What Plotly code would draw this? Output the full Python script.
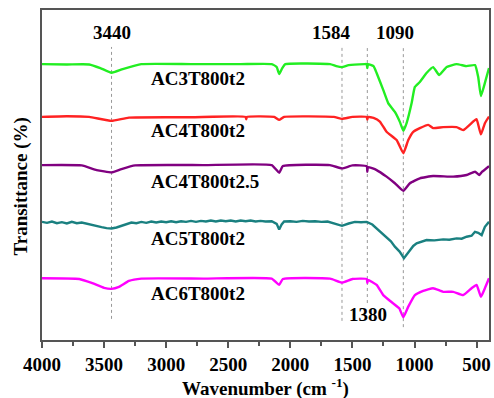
import plotly.graph_objects as go

# FTIR spectra of activated carbons, stacked with vertical offsets (arbitrary %T units)
wn_ac3 = [4000, 3800, 3620, 3530, 3440, 3350, 3200, 2800, 2400, 2150, 2110, 2090, 2065, 2040,
          1680, 1630, 1584, 1530, 1400, 1385, 1380, 1375, 1330, 1305, 1252, 1212, 1158, 1118,
          1090, 1063, 1023, 997, 957, 903, 850, 801, 741, 661, 580, 513, 487, 465, 433, 400]
t_ac3 = [83.6, 83.5, 83.5, 82.4, 81.0, 82.1, 83.6, 83.6, 83.6, 83.6, 82.7, 80.6, 82.4, 83.6,
         83.6, 83.0, 82.7, 83.3, 83.6, 83.6, 82.4, 83.6, 83.0, 80.9, 75.8, 71.8, 69.1, 66.1,
         63.4, 65.8, 71.8, 76.7, 78.2, 80.9, 82.7, 80.3, 82.7, 83.6, 83.0, 83.3, 79.7, 73.9, 77.9, 82.4]

wn_ac4 = [4000, 3800, 3620, 3440, 3300, 2800, 2360, 2355, 2350, 2130, 2090, 2050, 1650, 1584,
          1500, 1385, 1380, 1375, 1330, 1279, 1225, 1144, 1090, 1050, 1010, 957, 890, 850, 769,
          661, 608, 527, 500, 465, 433, 400]
t_ac4 = [67.6, 67.8, 67.6, 66.4, 67.4, 67.5, 67.6, 66.9, 67.6, 67.6, 66.7, 67.6, 67.6, 67.0,
         67.6, 67.6, 66.8, 67.6, 67.3, 66.2, 63.1, 60.6, 56.6, 60.6, 63.1, 64.2, 65.2, 64.2, 64.5,
         64.5, 63.6, 66.2, 66.9, 62.3, 65.7, 67.7]

wn_ac4_25 = [4000, 3680, 3560, 3440, 3360, 3250, 2700, 2150, 2090, 2060, 1680, 1584, 1500, 1385,
             1380, 1375, 1305, 1225, 1158, 1090, 1037, 957, 850, 688, 580, 513, 478, 455, 400]
t_ac4_25 = [53.0, 52.9, 51.5, 50.8, 51.8, 52.9, 53.0, 53.0, 50.7, 52.7, 53.0, 52.0, 52.9, 52.7,
            51.0, 52.4, 51.5, 49.5, 47.5, 45.2, 47.5, 49.0, 49.7, 49.5, 50.0, 51.0, 50.0, 51.0, 52.7]

# the AC5 spectrum is noisier, so it is sampled more densely
wn_ac5 = [4000, 3960, 3920, 3880, 3840, 3800, 3760, 3720, 3680, 3640, 3600, 3560, 3520, 3480,
          3440, 3400, 3360, 3320, 3280, 3240, 3200, 3160, 3120, 3080, 3040, 3000, 2960, 2920,
          2880, 2840, 2800, 2760, 2720, 2680, 2640, 2600, 2560, 2520, 2480, 2440, 2400, 2360,
          2320, 2280, 2240, 2200, 2150, 2110, 2090, 2070, 2050, 2000, 1950, 1900, 1850, 1800,
          1750, 1700, 1650, 1584, 1530, 1480, 1430, 1385, 1340, 1305, 1265, 1225, 1190, 1158,
          1120, 1085, 1060, 1037, 1010, 983, 940, 903, 840, 769, 720, 661, 620, 580, 540, 513,
          487, 459, 433, 400]
t_ac5 = [35.8, 35.5, 35.9, 35.4, 35.7, 35.3, 35.8, 35.4, 35.6, 35.2, 34.9, 34.5, 34.2, 33.9,
         33.8, 34.1, 34.6, 35.2, 35.6, 35.4, 35.8, 35.5, 35.9, 35.6, 35.9, 35.7, 36.0, 35.7,
         36.0, 35.8, 36.1, 35.8, 36.1, 35.9, 36.2, 35.9, 36.2, 36.0, 36.2, 35.9, 36.2, 36.0,
         36.2, 35.9, 36.1, 35.9, 36.0, 35.2, 33.5, 35.0, 35.9, 36.0, 35.8, 36.1, 35.9, 36.0,
         35.8, 35.9, 35.4, 34.6, 35.3, 35.8, 35.7, 35.8, 35.0, 33.8, 32.6, 31.3, 29.9, 28.3,
         26.8, 24.8, 26.0, 27.3, 28.5, 29.3, 29.9, 30.3, 30.2, 30.5, 30.4, 30.8, 30.7, 31.3, 31.6,
         32.8, 32.5, 31.8, 34.3, 35.8]

wn_ac6 = [4000, 3700, 3600, 3500, 3440, 3380, 3300, 3200, 2700, 2150, 2090, 2060, 1680, 1584,
          1500, 1385, 1380, 1375, 1305, 1252, 1172, 1123, 1090, 1050, 997, 930, 850, 769, 688,
          608, 540, 500, 465, 433, 400]
t_ac6 = [18.7, 18.5, 17.3, 15.8, 15.5, 16.1, 17.9, 18.6, 18.6, 18.6, 16.7, 18.5, 18.6, 17.4,
         18.5, 18.5, 17.3, 18.2, 16.7, 13.6, 11.1, 9.6, 6.9, 10.1, 13.6, 14.9, 15.7, 14.6, 14.6,
         13.6, 15.7, 16.7, 13.1, 15.7, 18.7]

names = ["AC3T800t2", "AC4T800t2", "AC4T800t2.5", "AC5T800t2", "AC6T800t2"]
colors = ["#22ee22", "#ff2222", "#800080", "#1a8080", "#ff00ff"]
label_y = [79.1, 63.6, 47.9, 30.9, 14.2]
label_x = 3140

# marked bands: wavenumber, dotted-line bottom, label position
band_wn = [3440, 1584, 1380, 1090]
band_bottom = [6.4, 5.8, 11.2, 3.9]
band_top = 88.8
band_label = ["3440", "1584", "1380", "1090"]
band_label_x = [3440, 1666, 1377, 1158]
band_label_y = [93.3, 93.3, 7.6, 93.3]

FONT = "Liberation Serif, Times New Roman, serif"
BOLD = dict(family=FONT, size=19, color="black", weight="bold")

fig = go.Figure()
series = [(wn_ac3, t_ac3), (wn_ac4, t_ac4), (wn_ac4_25, t_ac4_25), (wn_ac5, t_ac5), (wn_ac6, t_ac6)]
for (wn, t), name, c in zip(series, names, colors):
    shape = dict(shape="linear") if name == "AC5T800t2" else dict(shape="spline", smoothing=0.4)
    fig.add_trace(go.Scatter(x=wn, y=t, mode="lines", name=name,
                             line=dict(color=c, width=2.4, **shape)))

for wn, yb in zip(band_wn, band_bottom):
    fig.add_shape(type="line", x0=wn, x1=wn, y0=yb, y1=band_top, xref="x", yref="y",
                  line=dict(color="#999999", width=1, dash="dot"), layer="below")

for txt, x, y in zip(band_label, band_label_x, band_label_y):
    fig.add_annotation(x=x, y=y, text=txt, showarrow=False, xanchor="center", yanchor="middle",
                       font=BOLD)

for name, y in zip(names, label_y):
    fig.add_annotation(x=label_x, y=y, text=name, showarrow=False, xanchor="left", yanchor="middle",
                       font=BOLD)

# axis titles
fig.add_annotation(text="Transittance (%)", textangle=-90, showarrow=False,
                   xref="paper", yref="paper", x=-0.047, y=0.465,
                   xanchor="center", yanchor="middle", font=BOLD)
fig.add_annotation(text="Wavenumber (cm <sup>-1</sup>)", showarrow=False,
                   xref="paper", yref="paper", x=0.5, y=-0.145,
                   xanchor="center", yanchor="middle", font=BOLD)

fig.update_layout(
    width=494, height=398,
    margin=dict(l=42, r=5, t=10, b=58, autoexpand=False),
    paper_bgcolor="white", plot_bgcolor="white",
    showlegend=False,
    font=BOLD,
)
fig.update_xaxes(
    range=[4000, 400], autorange=False, dtick=500, tick0=0, automargin=False,
    showline=True, mirror=True, linecolor="#555555", linewidth=1.5,
    ticks="outside", ticklen=6, tickwidth=1.5, tickcolor="#555555",
    minor=dict(dtick=250, ticks="outside", ticklen=4, tickcolor="#555555", tickwidth=1.5),
    showgrid=False, zeroline=False,
    tickfont=BOLD,
)
fig.update_yaxes(
    range=[0, 100], autorange=False, automargin=False,
    showline=True, mirror=True, linecolor="#555555", linewidth=1.5,
    ticks="", showticklabels=False, showgrid=False, zeroline=False,
)

fig.write_html("out.html")
